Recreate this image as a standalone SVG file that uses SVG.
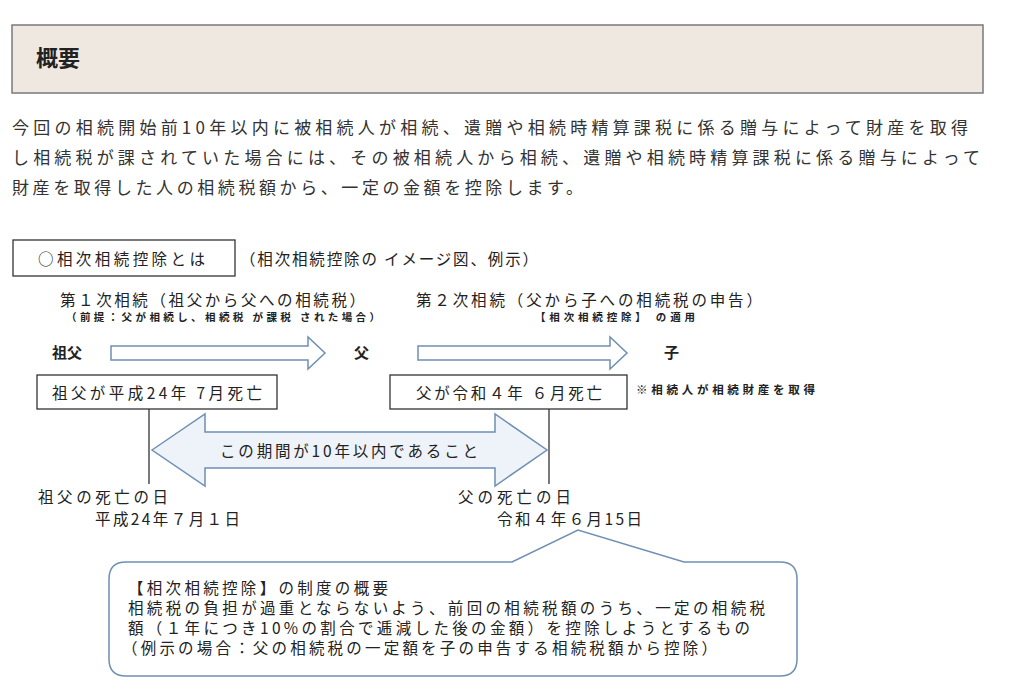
<svg xmlns="http://www.w3.org/2000/svg" width="1024" height="682" viewBox="0 0 1024 682">
<style>
text{font-family:"Noto Sans CJK JP","Noto Sans CJK SC",sans-serif;fill:#222}
.p{font-size:17px;fill:#333}
.b{fill:#fff;stroke:#333;stroke-width:1.3}
.m{font-size:15.5px}
.s{font-size:10.5px;font-weight:bold}
.ar{fill:#fff;stroke:#6f8fb3;stroke-width:1.5}
</style>
<rect width="1024" height="682" fill="#fff"/>
<g id="header"><rect x="12" y="25" width="971" height="68" fill="#efe8e1" stroke="#7a7a7a" stroke-width="1.5"/>
<text x="36" y="66" font-size="22" font-weight="bold">概要</text></g>
<g id="intro">
<text class="p" x="12" y="134" textLength="956" lengthAdjust="spacing">今回の相続開始前10年以内に被相続人が相続、遺贈や相続時精算課税に係る贈与によって財産を取得</text>
<text class="p" x="12" y="164" textLength="968" lengthAdjust="spacing">し相続税が課されていた場合には、その被相続人から相続、遺贈や相続時精算課税に係る贈与によって</text>
<text class="p" x="12" y="194" textLength="571" lengthAdjust="spacing">財産を取得した人の相続税額から、一定の金額を控除します。</text></g>
<g id="title"><rect class="b" x="13" y="240" width="222" height="36"/><text class="m" x="38" y="265" textLength="167" lengthAdjust="spacing">○相次相続控除とは</text>
<text class="m" x="240" y="265" textLength="298" lengthAdjust="spacing">（相次相続控除の イメージ図、例示）</text></g>
<g id="labels">
<text class="m" x="60" y="306" textLength="305" lengthAdjust="spacing">第１次相続（祖父から父への相続税）</text>
<text class="s" x="66" y="321" textLength="314" lengthAdjust="spacing">（前提：父が相続し、相続税 が課税 された場合）</text>
<text class="m" x="416" y="306" textLength="346" lengthAdjust="spacing">第２次相続（父から子への相続税の申告）</text>
<text class="s" x="535" y="321" textLength="160" lengthAdjust="spacing">【相次相続控除】 の適用</text>
<text x="52" y="358" font-size="15" font-weight="bold">祖父</text>
<text x="354" y="358" font-size="15" font-weight="bold">父</text>
<text x="664" y="358" font-size="15" font-weight="bold">子</text>
<text x="636" y="394" font-size="11.5" font-weight="bold" textLength="179" lengthAdjust="spacing">※相続人が相続財産を取得</text>
</g>
<g id="box1"><rect class="b" x="37" y="375" width="240" height="34"/><text class="m" x="52" y="399" textLength="210" lengthAdjust="spacing">祖父が平成24年 7月死亡</text></g>
<g id="box2"><rect class="b" x="390" y="375" width="237" height="34"/><text class="m" x="416" y="399" textLength="186" lengthAdjust="spacing">父が令和４年 ６月死亡</text></g>
<g id="connectors">
<path class="ar" d="M111 346H308V337L325 353L308 369V360H111Z"/>
<path class="ar" d="M418 346H610V337L627 353L610 369V360H418Z"/>
<path d="M149 409V484M549 409V484" stroke="#333" stroke-width="1.3"/>
<path d="M152 450L205 414V432H495V414L547 450L495 486V468H205V486Z" fill="#eef3f9" stroke="#6f8fb3" stroke-width="1.5"/>
</g>
<g id="period"><text class="m" x="220" y="457" textLength="258" lengthAdjust="spacing">この期間が10年以内であること</text></g>
<g id="dates">
<text class="m" x="38" y="503" textLength="130" lengthAdjust="spacing">祖父の死亡の日</text><text class="m" x="95" y="525" textLength="145" lengthAdjust="spacing">平成24年７月１日</text>
<text class="m" x="458" y="503" textLength="113" lengthAdjust="spacing">父の死亡の日</text><text class="m" x="497" y="525" textLength="145" lengthAdjust="spacing">令和４年６月15日</text></g>
<g id="callout">
<path d="M126 562H512L578 530L684 562H780Q797 562 797 579V659Q797 676 780 676H126Q109 676 109 659V579Q109 562 126 562Z" fill="#fff" stroke="#6f8fb3" stroke-width="1.5"/>
<text class="m" x="128" y="594" textLength="260" lengthAdjust="spacing">【相次相続控除】の制度の概要</text>
<text class="m" x="128" y="614" textLength="637" lengthAdjust="spacing">相続税の負担が過重とならないよう、前回の相続税額のうち、一定の相続税</text>
<text class="m" x="128" y="634" textLength="622" lengthAdjust="spacing">額（１年につき10%の割合で逓減した後の金額）を控除しようとするもの</text>
<text class="m" x="122" y="654" textLength="595" lengthAdjust="spacing">（例示の場合：父の相続税の一定額を子の申告する相続税額から控除）</text>
</g>
</svg>
